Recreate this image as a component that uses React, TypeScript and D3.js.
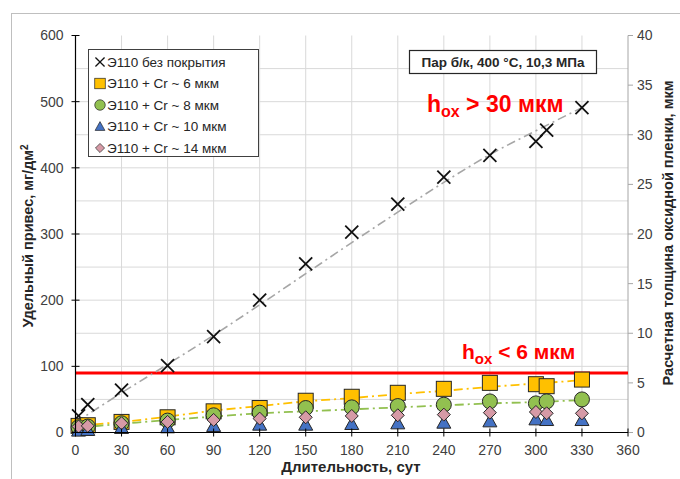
import React from "react";
import * as d3 from "d3";

// Duration of exposure, days
const daysUncoated = [2, 8, 30, 60, 90, 120, 150, 180, 210, 240, 270, 300, 307, 330];
const gainUncoated = [25, 42, 64, 101, 145, 200, 255, 303, 345, 386, 419, 440, 457, 491];

const daysCoated = [2, 8, 30, 60, 90, 120, 150, 180, 210, 240, 270, 300, 307, 330];
const gainCr6 = [10, 11, 16, 23, 32, 37, 48, 54, 60, 66, 75, 73, 70, 80];
const gainCr8 = [8, 9, 14, 18, 26, 30, 37, 38, 40, 42, 47, 44, 47, 50];
const gainCr10 = [3, 4, 7, 8, 10, 12, 12, 13, 14, 15, 17, 20, 19, 19];
const gainCr14 = [9, 10, 14, 16, 19, 21, 23, 25, 26, 27, 30, 31, 29, 29];

// Trend lines (dash-dot)
const trendUncoatedDays = [0, 30, 60, 90, 120, 150, 180, 210, 240, 270, 300, 330];
const trendUncoated = [15, 60, 103, 147, 193, 240, 287, 333, 378, 420, 456, 491];
const trendCr6Days = [0, 30, 60, 90, 120, 150, 180, 210, 240, 270, 300, 330];
const trendCr6 = [10, 16, 24, 33, 40, 47, 52, 58, 63, 69, 74, 79];
const trendCr8Days = [0, 30, 60, 90, 120, 150, 180, 210, 240, 270, 300, 330];
const trendCr8 = [7, 13, 19, 24, 29, 32, 35, 38, 41, 44, 46, 49];

const xTicks = [0, 30, 60, 90, 120, 150, 180, 210, 240, 270, 300, 330, 360];
const yTicks = [0, 100, 200, 300, 400, 500, 600];
const yGrid = [50, 100, 150, 200, 250, 300, 350, 400, 450, 500, 550];
const y2Ticks = [0, 5, 10, 15, 20, 25, 30, 35, 40];
const limitGain = 90; // 6 мкм

const legendLabels = [
  "Э110 без покрытия",
  "Э110 + Cr ~ 6 мкм",
  "Э110 + Cr ~ 8 мкм",
  "Э110 + Cr ~ 10 мкм",
  "Э110 + Cr ~ 14 мкм",
];

const FONT = "'Liberation Sans', Arial, sans-serif";
const ORANGE = "#FFC000";
const GREEN = "#92C050";
const BLUE = "#4472C4";
const PINK = "#D69AA6";
const STROKE = "#262626";

const left = 75.5, right = 628, top = 35.5, bottom = 432.5;

const x = d3.scaleLinear().domain([0, 360]).range([left, right]);
const y = d3.scaleLinear().domain([0, 600]).range([bottom, top]);
const y2 = d3.scaleLinear().domain([0, 40]).range([bottom, top]);

type Kind = "x" | "square" | "circle" | "triangle" | "diamond";

function Marker({ kind, cx, cy }: { kind: Kind; cx: number; cy: number }) {
  if (kind === "x") {
    const s = 6.5;
    return (
      <g stroke="#111" strokeWidth={1.8}>
        <line x1={cx - s} y1={cy - s} x2={cx + s} y2={cy + s} />
        <line x1={cx - s} y1={cy + s} x2={cx + s} y2={cy - s} />
      </g>
    );
  }
  if (kind === "square") {
    const s = 7.5;
    return <rect x={cx - s} y={cy - s} width={2 * s} height={2 * s} fill={ORANGE} stroke={STROKE} strokeWidth={1} />;
  }
  if (kind === "circle") {
    return <circle cx={cx} cy={cy} r={7.5} fill={GREEN} stroke={STROKE} strokeWidth={1} />;
  }
  if (kind === "triangle") {
    const s = 7;
    return (
      <path d={`M${cx},${cy - s}L${cx + s},${cy + s * 0.8}L${cx - s},${cy + s * 0.8}Z`} fill={BLUE} stroke={STROKE} strokeWidth={1} />
    );
  }
  const s = 6.5;
  return <path d={`M${cx},${cy - s}L${cx + s},${cy}L${cx},${cy + s}L${cx - s},${cy}Z`} fill={PINK} stroke={STROKE} strokeWidth={1} />;
}

const line = d3
  .line<[number, number]>()
  .x((d) => x(d[0]))
  .y((d) => y(d[1]))
  .curve(d3.curveMonotoneX);

export default function App() {
  const series: { kind: Kind; days: number[]; vals: number[] }[] = [
    { kind: "x", days: daysUncoated, vals: gainUncoated },
    { kind: "square", days: daysCoated, vals: gainCr6 },
    { kind: "circle", days: daysCoated, vals: gainCr8 },
    { kind: "triangle", days: daysCoated, vals: gainCr10 },
    { kind: "diamond", days: daysCoated, vals: gainCr14 },
  ];
  const legendKinds: Kind[] = ["x", "square", "circle", "triangle", "diamond"];

  return (
    <div style={{ position: "fixed", left: 0, top: 0 }}>
      <svg width={680} height={479} style={{ display: "block", background: "#fff" }} fontFamily={FONT}>
        {/* outer frame */}
        <rect x={11.5} y={13.5} width={700} height={500} fill="none" stroke="#BFBFBF" strokeWidth={1} />

        {/* grid */}
        <g stroke="#D9D9D9" strokeWidth={1}>
          {xTicks.slice(1, -1).map((t) => (
            <line key={"gx" + t} x1={x(t)} x2={x(t)} y1={top} y2={bottom} />
          ))}
          {yGrid.map((t) => (
            <line key={"gy" + t} x1={left} x2={right} y1={y(t)} y2={y(t)} />
          ))}
        </g>

        {/* right axis */}
        <line x1={right} x2={right} y1={top} y2={bottom} stroke="#A6A6A6" strokeWidth={1} />
        {y2Ticks.map((t) => (
          <g key={"r" + t}>
            <line x1={right} x2={right + 5} y1={y2(t)} y2={y2(t)} stroke="#A6A6A6" />
            <text x={right + 9} y={y2(t)} dy="0.35em" fontSize={14} fill="#404040">
              {t}
            </text>
          </g>
        ))}

        {/* limit line */}
        <line x1={x(0)} x2={x(360)} y1={y(limitGain)} y2={y(limitGain)} stroke="#FF0000" strokeWidth={3} />

        {/* trend lines */}
        <path
          d={line(trendUncoatedDays.map((d, i) => [d, trendUncoated[i]]) as [number, number][]) || ""}
          fill="none"
          stroke="#A6A6A6"
          strokeWidth={1.6}
          strokeDasharray="9 4 2 4"
        />
        <path
          d={line(trendCr6Days.map((d, i) => [d, trendCr6[i]]) as [number, number][]) || ""}
          fill="none"
          stroke={ORANGE}
          strokeWidth={1.8}
          strokeDasharray="9 4 2 4"
        />
        <path
          d={line(trendCr8Days.map((d, i) => [d, trendCr8[i]]) as [number, number][]) || ""}
          fill="none"
          stroke={GREEN}
          strokeWidth={1.8}
          strokeDasharray="9 4 2 4"
        />

        {/* markers */}
        {series.map((s) => (
          <g key={s.kind}>
            {s.days.map((d, i) => (
              <Marker key={i} kind={s.kind} cx={x(d)} cy={y(s.vals[i])} />
            ))}
          </g>
        ))}

        {/* left axis */}
        <line x1={left} x2={left} y1={top} y2={bottom} stroke="#000" strokeWidth={1.2} />
        {yTicks.map((t) => (
          <g key={"l" + t}>
            <line x1={left - 4} x2={left + 4} y1={y(t)} y2={y(t)} stroke="#000" />
            <text x={left - 12} y={y(t)} dy="0.35em" fontSize={14} fill="#404040" textAnchor="end">
              {t}
            </text>
          </g>
        ))}

        {/* bottom axis */}
        <line x1={left} x2={right} y1={bottom} y2={bottom} stroke="#000" strokeWidth={1.2} />
        {xTicks.map((t) => (
          <g key={"b" + t}>
            <line x1={x(t)} x2={x(t)} y1={bottom - 4} y2={bottom + 4} stroke="#000" />
            <text x={x(t)} y={bottom + 22} fontSize={14} fill="#404040" textAnchor="middle">
              {t}
            </text>
          </g>
        ))}

        {/* axis titles */}
        <text x={351} y={472} fontSize={15} fontWeight="bold" fill="#262626" textAnchor="middle">
          Длительность, сут
        </text>
        <text transform="translate(33,236) rotate(-90)" fontSize={14.5} fontWeight="bold" fill="#262626" textAnchor="middle">
          Удельный привес, мг/дм<tspan dy={-5} fontSize={10}>2</tspan>
        </text>
        <text transform="translate(673,233) rotate(-90)" fontSize={14.5} fontWeight="bold" fill="#262626" textAnchor="middle">
          Расчетная толщина оксидной пленки, мкм
        </text>

        {/* legend */}
        <rect x={88.5} y={49.5} width={170} height={107} fill="#fff" stroke="#404040" strokeWidth={1} />
        {legendLabels.map((lab, i) => {
          const cy = 62 + i * 21.5;
          const k = legendKinds[i];
          return (
            <g key={lab}>
              <g transform={`translate(${100},${cy}) scale(0.7) translate(${-100},${-cy})`}>
                <Marker kind={k} cx={100} cy={cy} />
              </g>
              <text x={107} y={cy} dy="0.36em" fontSize={13.5} fill="#262626">
                {lab}
              </text>
            </g>
          );
        })}

        {/* condition box */}
        <rect x={409.5} y={50.5} width={187} height={23} fill="#fff" stroke="#262626" strokeWidth={1.2} />
        <text x={503} y={62} dy="0.36em" fontSize={13.5} fontWeight="bold" fill="#262626" textAnchor="middle">
          Пар б/к, 400 °C, 10,3 МПа
        </text>

        {/* oxide thickness annotations */}
        <text x={427} y={112} fontSize={23} fontWeight="bold" fill="#FF0000">
          h<tspan dy={5} fontSize={16}>ox</tspan>
          <tspan dy={-5}> &gt; 30 мкм</tspan>
        </text>
        <text x={462} y={359} fontSize={21} fontWeight="bold" fill="#FF0000">
          h<tspan dy={5} fontSize={15}>ox</tspan>
          <tspan dy={-5}> &lt; 6 мкм</tspan>
        </text>
      </svg>
    </div>
  );
}
